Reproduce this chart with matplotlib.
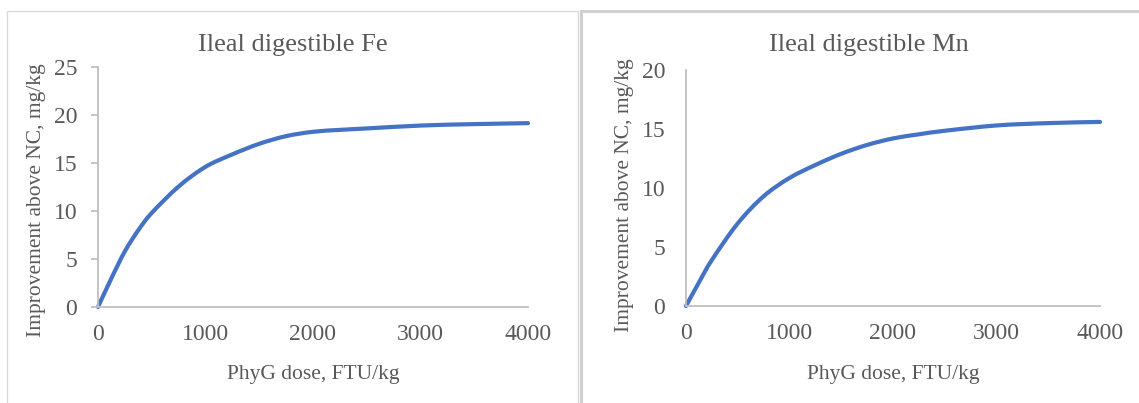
import matplotlib.pyplot as plt
from matplotlib.patches import Rectangle, PathPatch
from matplotlib.path import Path

# dose levels, FTU/kg
dose_fe = [0, 125, 250, 375, 500, 750, 1000, 1250, 1500, 1750, 2000, 2250, 2500, 3000, 3500, 4000]
dose_mn = [0, 125, 250, 500, 750, 1000, 1250, 1500, 1750, 2000, 2250, 2500, 3000, 3500, 4000]

# improvement above NC, mg/kg
fe = [0, 3.0, 5.8, 8.0, 9.8, 12.55, 14.6, 15.9, 17.0, 17.8, 18.25, 18.45, 18.6, 18.9, 19.05, 19.15]
mn = [0, 2.0, 3.9, 7.0, 9.3, 10.85, 11.95, 12.9, 13.65, 14.2, 14.55, 14.85, 15.3, 15.5, 15.6]

titles = ["Ileal digestible Fe", "Ileal digestible Mn"]
ylims = [25, 20]
xticks = [0, 1000, 2000, 3000, 4000]

plt.rcParams['font.family'] = 'Liberation Serif'
grey = '#595959'
W, H = 1139, 403


def smooth_path(x, y):
    # Excel-style smoothed line: Catmull-Rom segments as cubic beziers
    verts = [(x[0], y[0])]
    codes = [Path.MOVETO]
    n = len(x)
    for i in range(n - 1):
        x0, y0 = (x[i - 1], y[i - 1]) if i > 0 else (x[i], y[i])
        x3, y3 = (x[i + 2], y[i + 2]) if i + 2 < n else (x[i + 1], y[i + 1])
        x1, y1 = x[i], y[i]
        x2, y2 = x[i + 1], y[i + 1]
        c1 = (x1 + (x2 - x0) / 6, y1 + (y2 - y0) / 6)
        c2 = (x2 - (x3 - x1) / 6, y2 - (y3 - y1) / 6)
        verts += [c1, c2, (x2, y2)]
        codes += [Path.CURVE4] * 3
    return Path(verts, codes)


fig = plt.figure(figsize=(W / 100, H / 100), dpi=100)

# panel frames
fig.patches.append(Rectangle((7 / W, -0.01), 571 / W, 1.01 - 11 / H, transform=fig.transFigure,
                             fill=False, edgecolor='#d9d9d9', linewidth=1))
fig.patches.append(Rectangle((581 / W, -0.01), 600 / W, 1.01 - 11 / H, transform=fig.transFigure,
                             fill=False, edgecolor='#d0d0d0', linewidth=2.2))

# axes boxes in pixels: left, right, top, bottom
boxes = [(98, 528, 67, 307), (686, 1100, 70, 306)]
title_x = [293, 869]
ylabel_xy = [(37, 200), (624, 195)]
tick_len = [5, 0]
tick_pad = [10, 15]

for i, (xs, series, box) in enumerate(zip([dose_fe, dose_mn], [fe, mn], boxes)):
    l, r, t, b = box
    ax = fig.add_axes([l / W, 1 - b / H, (r - l) / W, (b - t) / H])
    ax.add_patch(PathPatch(smooth_path(xs, series), fill=False, edgecolor='#4472C4',
                           linewidth=3.0, capstyle='round', joinstyle='round', clip_on=False))
    ax.set_xlim(0, 4000)
    ax.set_ylim(0, ylims[i])
    ax.set_xticks(xticks)
    ax.set_yticks(range(0, ylims[i] + 1, 5))
    for s in ['top', 'right']:
        ax.spines[s].set_visible(False)
    for s in ['left', 'bottom']:
        ax.spines[s].set_color('#bfbfbf')
        ax.spines[s].set_linewidth(1.3)
    ax.tick_params(axis='y', colors='#bfbfbf', labelcolor=grey, labelsize=17,
                   length=tick_len[i], width=1.3, pad=tick_pad[i])
    ax.tick_params(axis='x', length=0, labelcolor=grey, labelsize=17, pad=12)
    ax.set_xlabel("PhyG dose, FTU/kg", color=grey, fontsize=15.5, labelpad=15)
    ax.patch.set_alpha(0)
    fig.text(title_x[i] / W, 1 - 45 / H, titles[i], color=grey, fontsize=19,
             ha='center', va='center')
    lx, ly = ylabel_xy[i]
    fig.text(lx / W, 1 - ly / H, "Improvement above NC, mg/kg", color=grey, fontsize=15.5,
             rotation=90, ha='center', va='center')

fig.savefig('out.png', dpi=100)
